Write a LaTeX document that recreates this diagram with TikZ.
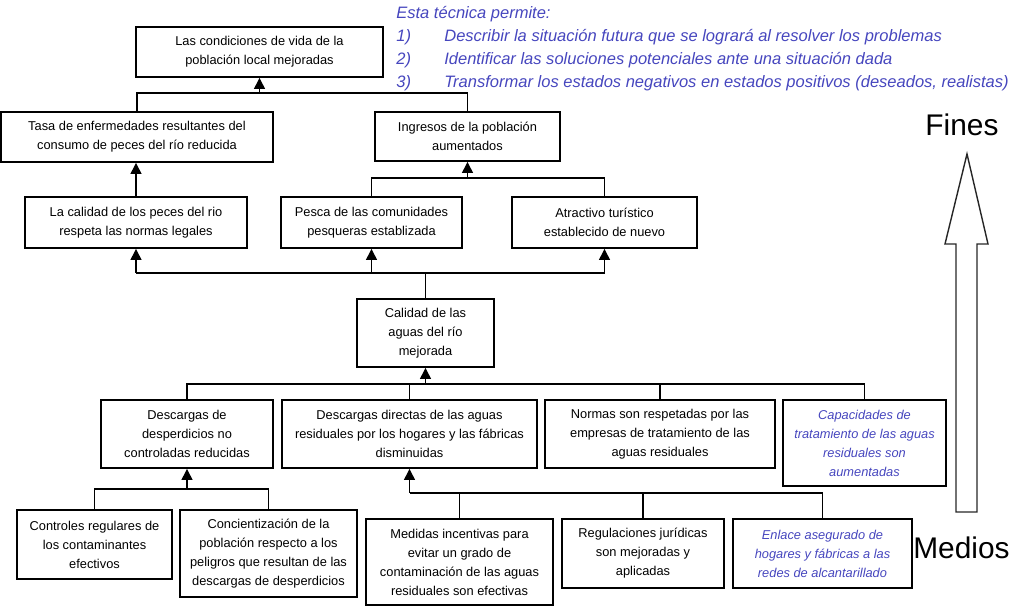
\documentclass[tikz,border=0pt]{standalone}
\usepackage{fontspec}
\setmainfont{Liberation Sans}
\usepackage{xcolor}
\usetikzlibrary{arrows.meta, positioning}
\definecolor{noteblue}{RGB}{70,70,190}
\def\px{0.2mm}
\newcommand{\boxfont}{\fontsize{7.3}{10.8}\selectfont}
\newcommand{\notefont}{\fontsize{9.4}{13}\selectfont\itshape}

\begin{document}
\begin{tikzpicture}[
    x=\px, y=-\px,
    box/.style={draw, line width=1.1pt, align=center, inner sep=0pt, font=\boxfont},
    sz/.style 2 args={minimum width=#1*\px, minimum height=#2*\px},
    blue/.style={text=noteblue, font=\boxfont\itshape},
    link/.style={line width=0.8pt},
    arr/.style={line width=0.8pt, -{Triangle[length=2.2mm,width=2.2mm]}},
    note/.style={text=noteblue, font=\notefont, inner sep=0pt, anchor=west},
    side/.style={font=\fontsize{17}{20}\selectfont, inner sep=0pt}
]
\useasboundingbox (0,0) rectangle (1024,613);

% fines
\node[box, sz={247}{50}] (vida) at (259.5,52) {Las condiciones de vida de la\\población local mejoradas};
\node[box, sz={272}{50}] (tasa) at (137,137) {Tasa de enfermedades resultantes del\\consumo de peces del río reducida};
\node[box, sz={185}{49}] (ingresos) at (467.5,136.5) {Ingresos de la población\\aumentados};
\node[box, sz={222}{51}] (peces) at (136,222.5) {La calidad de los peces del rio\\respeta las normas legales};
\node[box, sz={181}{51}] (pesca) at (371.5,222.5) {Pesca de las comunidades\\pesqueras establizada};
\node[box, sz={185}{51}] (turismo) at (604.5,222.5) {Atractivo turístico\\establecido de nuevo};
\node[box, sz={137}{68}] (aguas) at (425.5,333) {Calidad de las\\aguas del río\\mejorada};

% medios
\node[box, sz={172}{68}] (descNo) at (187,434) {Descargas de\\desperdicios no\\controladas reducidas};
\node[box, sz={255}{68}] (descDir) at (409.5,434) {Descargas directas de las aguas\\residuales por los hogares y las fábricas\\disminuidas};
\node[box, sz={230}{68}] (normas) at (660,434) {Normas son respetadas por las\\empresas de tratamiento de las\\aguas residuales};
\node[box, blue, sz={163}{86}] (capac) at (864.5,443) {Capacidades de\\tratamiento de las aguas\\residuales son\\aumentadas};
\node[box, sz={155}{69}] (control) at (94.5,544.5) {Controles regulares de\\los contaminantes\\efectivos};
\node[box, sz={177}{87}] (concien) at (268.5,553.5) {Concientización de la\\población respecto a los\\peligros que resultan de las\\descargas de desperdicios};
\node[box, sz={187}{86}] (medidas) at (459.5,562) {Medidas incentivas para\\evitar un grado de\\contaminación de las aguas\\residuales son efectivas};
\node[box, sz={162}{69}] (regul) at (643,553.5) {Regulaciones jurídicas\\son mejoradas y\\aplicadas};
\node[box, blue, sz={179}{69}] (enlace) at (822.5,553.5) {Enlace asegurado de\\hogares y fábricas a las\\redes de alcantarillado};

% junctions
\coordinate (jVida) at (vida.south |- 0,93);
\coordinate (jIngr) at (ingresos.south |- 0,178);
\coordinate (jAguas) at (aguas.north |- 0,273);
\coordinate (jMid) at (aguas.south |- 0,384);
\coordinate (jDescNo) at (descNo.south |- 0,489);
\coordinate (jDescDir) at (descDir.south |- 0,493);

\draw[link] (tasa.north) |- (jVida) -| (ingresos.north);
\draw[arr] (jVida) -- (vida.south);
\draw[arr] (peces.north) -- (peces.north |- tasa.south);
\draw[link] (pesca.north) |- (jIngr) -| (turismo.north);
\draw[arr] (jIngr) -- (ingresos.south);

\draw[link] (aguas.north) -- (jAguas);
\draw[link] (peces.south |- jAguas) -- (turismo.south |- jAguas);
\foreach \n in {peces, pesca, turismo}
    \draw[arr] (\n.south |- jAguas) -- (\n.south);

\draw[link] (descNo.north) |- (jMid) -| (capac.north);
\foreach \n in {descDir, normas}
    \draw[link] (jMid -| \n.north) -- (\n.north);
\draw[arr] (jMid) -- (aguas.south);

\draw[link] (control.north) |- (jDescNo) -| (concien.north);
\draw[arr] (jDescNo) -- (descNo.south);

\draw[link] (jDescDir) -| (enlace.north);
\foreach \n in {medidas, regul}
    \draw[link] (jDescDir -| \n.north) -- (\n.north);
\draw[arr] (jDescDir) -- (descDir.south);

% fines / medios
\draw[line width=0.8pt, draw=black!85]
    (956,512) -- (956,244) -- (945,244) -- (967,154) -- (988,244)
    -- (977,244) -- (977,512) -- cycle;
\node[side] (fines) at (962,125) {Fines};
\node[side] (medios) at (961.5,548) {Medios};

% nota
\node[note] (intro) at (396,14) {Esta técnica permite:};
\foreach \i/\t in {1/{Describir la situación futura que se logrará al resolver los problemas},
                   2/{Identificar las soluciones potenciales ante una situación dada},
                   3/{Transformar los estados negativos en estados positivos (deseados, realistas)}}{
    \node[note] (num\i) at (396,14+23*\i) {\i)};
    \node[note] (item\i) at (444,14+23*\i) {\t};
}
\end{tikzpicture}
\end{document}
